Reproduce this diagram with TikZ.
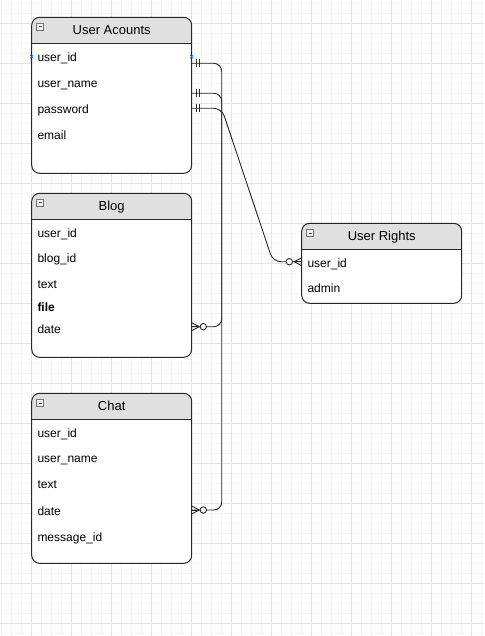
\documentclass[tikz,border=0pt]{standalone}
\usepackage{fontspec}
\setmainfont{Liberation Sans}
\begin{document}
\begin{tikzpicture}[x=1pt,y=-1pt,
  minorgrid/.style={draw=black!4,line width=1pt},
  majorgrid/.style={draw=black!11,line width=1pt},
  tbl/.style={draw=black!85,line width=1pt},
  hdrfill/.style={fill=black!12},
  hdrtxt/.style={inner sep=0pt,font=\fontsize{13}{15}\selectfont,text height=9.3pt,text depth=2.7pt,yshift=-1pt},
  rowtxt/.style={anchor=west,inner sep=0pt,font=\fontsize{12}{14}\selectfont,text height=8.6pt,text depth=2.5pt,yshift=-1.6pt},
  conn/.style={draw=black!85,line width=0.9pt,rounded corners=8pt},
  tick/.style={draw=black!85,line width=0.9pt},
  bluex/.style={draw=blue!60!cyan,line width=0.6pt}]
\useasboundingbox (0,0) rectangle (484,636);
\fill[white] (0,0) rectangle (484,636);
% grid
\foreach \i in {0,...,48} \draw[minorgrid] ({1.3+10*\i},0) -- ({1.3+10*\i},636);
\foreach \i in {0,...,63} \draw[minorgrid] (0,{3.3+10*\i}) -- (484,{3.3+10*\i});
\foreach \i in {0,...,11} \draw[majorgrid] ({31.3+40*\i},0) -- ({31.3+40*\i},636);
\foreach \i in {0,...,15} \draw[majorgrid] (0,{23.3+40*\i}) -- (484,{23.3+40*\i});

\newcommand{\erbox}[7]{%
  \path[fill=white,rounded corners=8pt] (#2,#3) rectangle (#4,#5);
  \begin{scope}
    \clip[rounded corners=8pt] (#2,#3) rectangle (#4,#5);
    \fill[hdrfill] (#2,#3) rectangle (#4,#6);
  \end{scope}
  \draw[tbl,rounded corners=8pt] (#2,#3) rectangle (#4,#5);
  \draw[tbl] (#2,#6) -- (#4,#6);
  \node[hdrtxt] (#1-title) at ({(#2+#4)/2},{(#3+#6)/2}) {#7};
  \draw[draw=black!55,fill=black!6,line width=0.6pt] ({#2+5},{#3+6}) rectangle ({#2+12},{#3+13});
  \draw[draw=black!70,line width=0.6pt] ({#2+6.8},{#3+9.5}) -- ({#2+10.2},{#3+9.5});
}

% tables
\erbox{ua}{31.7}{17.3}{191.7}{173.3}{43.3}{User Acounts}
\node[rowtxt] (ua-r1) at (37.3,56.7) {user\_id};
\node[rowtxt] (ua-r2) at (37.3,82.7) {user\_name};
\node[rowtxt] (ua-r3) at (37.3,108.7) {password};
\node[rowtxt] (ua-r4) at (37.3,134.7) {email};

\erbox{bl}{31.7}{193.3}{191.7}{357.3}{219}{Blog}
\node[rowtxt] (bl-r1) at (37.3,232.7) {user\_id};
\node[rowtxt] (bl-r2) at (37.3,258.3) {blog\_id};
\node[rowtxt] (bl-r3) at (37.3,284.3) {text};
\node[rowtxt] (bl-r4) at (37.3,306.7) {\bfseries file};
\node[rowtxt] (bl-r5) at (37.3,329) {date};

\erbox{ch}{31.7}{393.3}{191.7}{563.3}{419}{Chat}
\node[rowtxt] (ch-r1) at (37.3,432.7) {user\_id};
\node[rowtxt] (ch-r2) at (37.3,458.3) {user\_name};
\node[rowtxt] (ch-r3) at (37.3,484.3) {text};
\node[rowtxt] (ch-r4) at (37.3,510.7) {date};
\node[rowtxt] (ch-r5) at (37.3,536.7) {message\_id};

\erbox{ur}{301.7}{223.3}{461.7}{303.3}{249}{User Rights}
\node[rowtxt] (ur-r1) at (307.3,262.7) {user\_id};
\node[rowtxt] (ur-r2) at (307.3,287.7) {admin};

% connector anchor points
\coordinate (bus) at (221.7,0);
\coordinate (c1s) at (191.7,63.3);
\coordinate (c1e) at (191.7,510);
\coordinate (c2s) at (191.7,93.3);
\coordinate (c2e) at (191.7,326.7);
\coordinate (c3s) at (191.7,108.3);
\coordinate (c3b) at (273,261.7);
\coordinate (c3e) at (301.7,261.7);

% connectors
\draw[conn] (c1s) -- (c1s -| bus) -- (c1e -| bus) -- (c1e);
\draw[conn] (c2s) -- (c2s -| bus) -- (c2e -| bus) -- (c2e);
\draw[conn] (c3s) -- (c3s -| bus) -- (c3b) -- (c3e);

% mandatory-one ends
\foreach \c in {c1s,c2s,c3s}{
  \draw[tick] ([xshift=4.3pt,yshift=-4pt]\c) -- ([xshift=4.3pt,yshift=4pt]\c);
  \draw[tick] ([xshift=7.8pt,yshift=-4pt]\c) -- ([xshift=7.8pt,yshift=4pt]\c);
}
% zero-or-many ends (left tables)
\foreach \c in {c1e,c2e}{
  \draw[tick] ([yshift=-4pt]\c) -- ([xshift=7.5pt]\c) -- ([yshift=4pt]\c);
  \draw[tick] (\c) -- ([xshift=7.5pt]\c);
  \draw[tick,fill=white] ([xshift=11.6pt]\c) circle (3.2pt);
}
% zero-or-many end (User Rights)
\draw[tick] ([yshift=-4pt]c3e) -- ([xshift=-7.5pt]c3e) -- ([yshift=4pt]c3e);
\draw[tick] (c3e) -- ([xshift=-7.5pt]c3e);
\draw[tick,fill=white] ([xshift=-12.4pt]c3e) circle (3.2pt);

% connection point markers
\foreach \p in {(31.7,56.7),(191.7,56.7)}{
  \draw[bluex] \p ++(-1.6,-1.6) -- ++(3.2,3.2);
  \draw[bluex] \p ++(-1.6,1.6) -- ++(3.2,-3.2);
}
\end{tikzpicture}
\end{document}
